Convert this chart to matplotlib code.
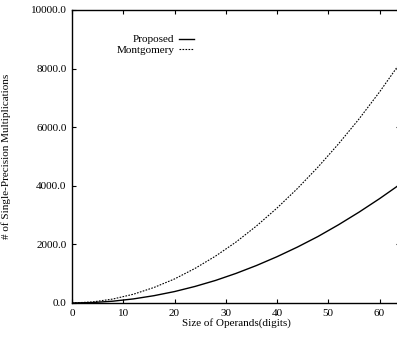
import numpy as np
import matplotlib
matplotlib.use("Agg")
import matplotlib.pyplot as plt

# ==========================================
# DATA
# ==========================================

digits = [0, 4, 8, 12, 16, 20, 24, 28, 32, 36, 40, 44, 48, 52, 56, 60, 64]

proposed = [0, 16, 62, 140, 250, 390, 565, 770, 1010, 1280, 1580,
            1910, 2270, 2670, 3100, 3560, 4050]

montgomery = [0, 36, 136, 300, 530, 820, 1180, 1600, 2080, 2630, 3240,
              3910, 4640, 5430, 6280, 7200, 8190]

x_ticks = [0, 10, 20, 30, 40, 50, 60]
y_ticks = [0, 2000, 4000, 6000, 8000, 10000]

# ==========================================
# FIGURE
# ==========================================

plt.rcParams["font.family"] = ["Liberation Serif", "DejaVu Serif"]

W, H = 397, 344
fig = plt.figure(figsize=(W / 100, H / 100), dpi=100)

ax = fig.add_axes([72 / W, (H - 303) / H, 328 / W, 293 / H])

ax.plot(digits, proposed, color="black", lw=1.0, label="Proposed")
ax.plot(digits, montgomery, color="black", lw=0.8,
        linestyle=(0, (1.5, 1.2)), label="Montgomery")

ax.set_xlim(0, 64)
ax.set_ylim(0, 10000)

ax.set_xticks(x_ticks)
ax.set_yticks(y_ticks)
ax.set_yticklabels([f"{v:.1f}" for v in y_ticks])

ax.tick_params(direction="in", length=3, width=0.8, labelsize=8,
               top=True, right=True, pad=4)

for s in ax.spines.values():
    s.set_linewidth(1.0)

ax.set_xlabel("Size of Operands(digits)", fontsize=8, labelpad=0)
ax.set_ylabel("# of Single-Precision Multiplications", fontsize=8,
              labelpad=14)

ax.legend(loc="upper left", bbox_to_anchor=(0.105, 0.95), frameon=False,
          markerfirst=False, fontsize=8, handlelength=1.4,
          handletextpad=0.4, labelspacing=0.1)

fig.savefig("out.png", dpi=100)
